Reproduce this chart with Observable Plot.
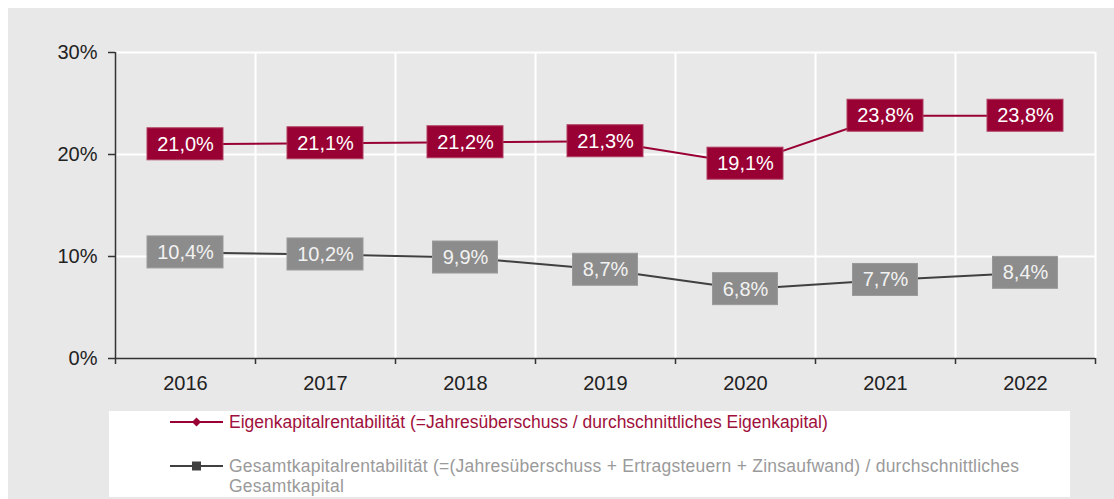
<!DOCTYPE html>
<html>
<head>
<meta charset="utf-8">
<script src="https://cdn.jsdelivr.net/npm/d3@7"></script>
<script src="https://cdn.jsdelivr.net/npm/@observablehq/plot@0.6"></script>
<style>
  html, body { margin: 0; padding: 0; background: #ffffff; }
  body { width: 1114px; height: 499px; position: relative; overflow: hidden; font-family: "Liberation Sans", Arial, sans-serif; }
  #frame { position: absolute; left: 8px; top: 8px; width: 1106px; height: 491px; background: #e8e8e8; }
  #chart { position: absolute; left: 0; top: 0; }
  #legend { position: absolute; left: 101px; top: 403px; width: 961px; height: 86px; background: #ffffff; }
  .item { position: absolute; left: 61px; display: flex; align-items: flex-start; font-size: 17.5px; line-height: 20px; }
  .item svg { flex: none; margin-right: 6px; margin-top: 1px; }
</style>
</head>
<body>
<div id="frame">
  <div id="chart"></div>
  <div id="legend"></div>
</div>
<script>
// ---- data ----
const years = [2016, 2017, 2018, 2019, 2020, 2021, 2022];
const eigenkapital = [21.0, 21.1, 21.2, 21.3, 19.1, 23.8, 23.8];
const gesamtkapital = [10.4, 10.2, 9.9, 8.7, 6.8, 7.7, 8.4];
const yTicks = [0, 10, 20, 30];
const seriesNames = [
  "Eigenkapitalrentabilität (=Jahresüberschuss / durchschnittliches Eigenkapital)",
  "Gesamtkapitalrentabilität (=(Jahresüberschuss + Ertragsteuern + Zinsaufwand) / durchschnittliches Gesamtkapital"
];
const red = "#990033";
const darkLine = "#404040";
const grayBox = "#8c8c8c";

const fmt = v => v.toFixed(1).replace(".", ",") + "%";
const eigenData = years.map((y, i) => ({year: y, value: eigenkapital[i], label: fmt(eigenkapital[i])}));
const gesamtData = years.map((y, i) => ({year: y, value: gesamtkapital[i], label: fmt(gesamtkapital[i])}));
const bounds = [years[0] - 0.5, ...years.map(y => y + 0.5)];
const innerBounds = years.map(y => y + 0.5);

function boxes(data, fill, stroke) {
  const long = d => d.label.length >= 5;
  const common = {x1: "year", x2: "year", y1: "value", y2: "value", fill, stroke, strokeWidth: 1, insetTop: -16, insetBottom: -16};
  return [
    Plot.rect(data.filter(long), {...common, insetLeft: -38, insetRight: -38}),
    Plot.rect(data.filter(d => !long(d)), {...common, insetLeft: -32.5, insetRight: -32.5})
  ];
}

const chart = Plot.plot({
  width: 1106,
  height: 400,
  marginLeft: 107,
  marginRight: 19,
  marginTop: 44,
  marginBottom: 50,
  style: {background: "transparent", fontFamily: "'Liberation Sans', Arial, sans-serif", overflow: "visible"},
  x: {type: "linear", domain: [bounds[0], bounds[bounds.length - 1]]},
  y: {domain: [0, 30]},
  marks: [
    // gridlines
    Plot.ruleY(yTicks.filter(t => t > 0), {x1: bounds[0], x2: bounds[bounds.length - 1], stroke: "#ffffff", strokeWidth: 2}),
    Plot.ruleX(innerBounds, {y1: 0, y2: 30, stroke: "#ffffff", strokeWidth: 2}),
    // axes
    Plot.axisY(yTicks, {tickSize: 7, tickPadding: 11, tickFormat: d => d + "%", fontSize: 20, color: "#222", stroke: "#333", strokeWidth: 1.5, label: null}),
    Plot.axisX(bounds, {tickSize: 6, tickFormat: () => "", stroke: "#333", strokeWidth: 1.5, label: null}),
    Plot.axisX(years, {tickSize: 0, tickPadding: 17, tickFormat: d => String(d), fontSize: 20, color: "#222", label: null}),
    Plot.ruleY([0], {x1: bounds[0], x2: bounds[bounds.length - 1], stroke: "#333", strokeWidth: 1.5}),
    Plot.ruleX([bounds[0]], {y1: 0, y2: 30, stroke: "#333", strokeWidth: 1.5}),
    // lines
    Plot.line(eigenData, {x: "year", y: "value", stroke: red, strokeWidth: 2}),
    Plot.line(gesamtData, {x: "year", y: "value", stroke: darkLine, strokeWidth: 2}),
    // label boxes
    ...boxes(eigenData, red, "#b04060"),
    ...boxes(gesamtData, grayBox, "#9a9a9a"),
    Plot.text(eigenData, {x: "year", y: "value", text: "label", fill: "#ffffff", fontSize: 20}),
    Plot.text(gesamtData, {x: "year", y: "value", text: "label", fill: "#f2f2f2", fontSize: 20})
  ]
});
document.getElementById("chart").appendChild(chart);

// ---- legend ----
const legend = document.getElementById("legend");
const items = [
  {name: seriesNames[0], color: red, textColor: "#a0103c", symbol: "diamond", top: 1, spacing: "0px"},
  {name: seriesNames[1], color: darkLine, textColor: "#9a9a9a", symbol: "square", top: 45, spacing: "0.25px"}
];
items.forEach(it => {
  const div = document.createElement("div");
  div.className = "item";
  div.style.top = it.top + "px";
  div.style.color = it.textColor;
  div.style.letterSpacing = it.spacing;
  div.style.width = "870px";
  const ns = "http://www.w3.org/2000/svg";
  const svg = document.createElementNS(ns, "svg");
  svg.setAttribute("width", 53);
  svg.setAttribute("height", 18);
  const line = document.createElementNS(ns, "line");
  line.setAttribute("x1", 0); line.setAttribute("x2", 53);
  line.setAttribute("y1", 9); line.setAttribute("y2", 9);
  line.setAttribute("stroke", it.color); line.setAttribute("stroke-width", 2);
  svg.appendChild(line);
  const sym = document.createElementNS(ns, "path");
  sym.setAttribute("d", it.symbol === "diamond" ? "M26.5,4.5 L31,9 L26.5,13.5 L22,9 Z" : "M22,4.5 h9 v9 h-9 Z");
  sym.setAttribute("fill", it.color);
  svg.appendChild(sym);
  div.appendChild(svg);
  const span = document.createElement("span");
  span.textContent = it.name;
  div.appendChild(span);
  legend.appendChild(div);
});
</script>
</body>
</html>
